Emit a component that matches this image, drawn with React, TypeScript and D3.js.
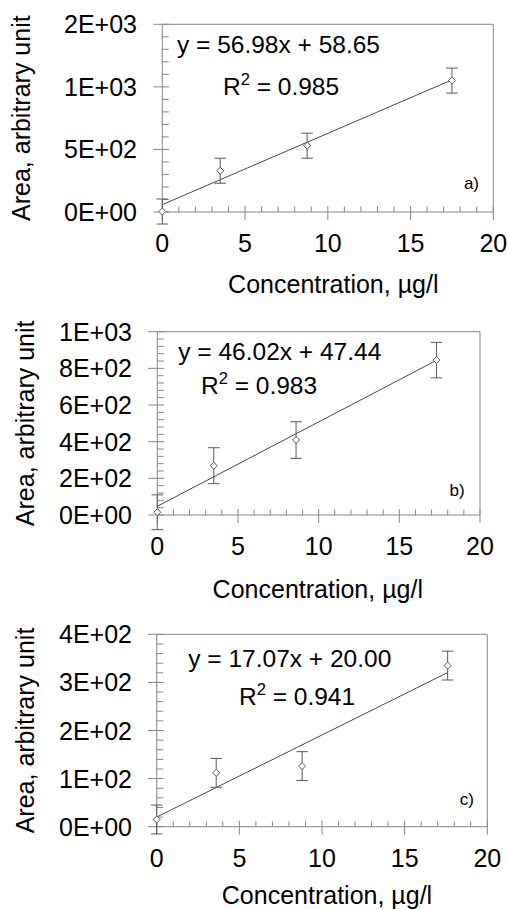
import React from "react";
import * as d3 from "d3";

// ---- Data ----
const panelIds = ["a", "b", "c"];
const concA = [0, 3.5, 8.75, 17.5];
const areaA = [4, 330, 530, 1050];
const errA = [100, 100, 100, 100];
const concB = [0, 3.5, 8.6, 17.3];
const areaB = [15, 269, 409, 845];
const errB = [95, 98, 100, 97];
const concC = [0, 3.6, 8.8, 17.6];
const areaC = [15, 112, 126, 335];
const errC = [30, 30, 30, 30];
const slopes = [56.98, 46.02, 17.07];
const intercepts = [58.65, 47.44, 20.0];
const r2s = ["0.985", "0.983", "0.941"];
const xTicks = [0, 5, 10, 15, 20];
const yMaxes = [1500, 1000, 400];
const yMajorSteps = [500, 200, 100];
const xTitle = "Concentration, µg/l";
const yTitle = "Area, arbitrary unit";

// ---- Layout (pixel positions) ----
const layout = [
  { x0: 162.3, x1: 493.3, yTop: 24.3, yBot: 212, yLabR: 137, yTitleX: 30, eqX: 177, eqY: 53, r2X: 223, r2Y: 95, labX: 479, labY: 188.5, xTitleX: 333.3, xTitleY: 293 },
  { x0: 157.3, x1: 480, yTop: 331.7, yBot: 515, yLabR: 132, yTitleX: 34, eqX: 178.3, eqY: 360, r2X: 201, r2Y: 394, labX: 464.7, labY: 496, xTitleX: 317.8, xTitleY: 598.3 },
  { x0: 156.7, x1: 487.3, yTop: 634.3, yBot: 826.7, yLabR: 132, yTitleX: 34, eqX: 188.3, eqY: 666.7, r2X: 239, r2Y: 705, labX: 474, labY: 805, xTitleX: 327, xTitleY: 904 },
];

const FONT = "'Liberation Sans', Arial, sans-serif";
const AXIS = "#868686";
const ERR = "#5a5a5a";
const LINE = "#4a4a4a";

function excelSci(v: number): string {
  if (v === 0) return "0E+00";
  let e = Math.floor(Math.log10(Math.abs(v)));
  let m = Math.round(v / Math.pow(10, e));
  if (m >= 10) { m = 1; e += 1; }
  const es = (e < 0 ? "-" : "+") + String(Math.abs(e)).padStart(2, "0");
  return `${m}E${es}`;
}

function Panel({ i }: { i: number }) {
  const L = layout[i];
  const conc = [concA, concB, concC][i];
  const area = [areaA, areaB, areaC][i];
  const err = [errA, errB, errC][i];
  const x = d3.scaleLinear().domain([0, 20]).range([L.x0, L.x1]);
  const y = d3.scaleLinear().domain([0, yMaxes[i]]).range([L.yBot, L.yTop]);
  const step = yMajorSteps[i];
  const yMajor = d3.range(0, yMaxes[i] + step / 2, step);
  const yMinor = d3.range(0, yMaxes[i] + step / 10, step / 5).filter((v) => !yMajor.some((m) => Math.abs(m - v) < 1e-6));
  const xMinor = d3.range(0, 21, 1).filter((v) => v % 5 !== 0);
  const slope = slopes[i], icpt = intercepts[i];
  const xEnd = d3.max(conc) as number;
  const line = d3.line<number>().x((d) => x(d)).y((d) => y(slope * d + icpt));
  const r = 3.5;
  const cap = 5.8;
  return (
    <g>
      {/* frame: top and right */}
      <line x1={L.x0} x2={L.x1} y1={L.yTop} y2={L.yTop} stroke={AXIS} strokeWidth={1} />
      <line x1={L.x1} x2={L.x1} y1={L.yTop} y2={L.yBot} stroke={AXIS} strokeWidth={1} />
      {/* axes */}
      <line x1={L.x0} x2={L.x1} y1={L.yBot} y2={L.yBot} stroke={AXIS} strokeWidth={1} />
      <line x1={L.x0} x2={L.x0} y1={L.yTop} y2={L.yBot} stroke={AXIS} strokeWidth={1} />
      {xTicks.map((t) => (
        <line key={"xM" + t} x1={x(t)} x2={x(t)} y1={L.yBot - 6} y2={L.yBot + 8} stroke={AXIS} strokeWidth={1} />
      ))}
      {xMinor.map((t) => (
        <line key={"xm" + t} x1={x(t)} x2={x(t)} y1={L.yBot - 5.5} y2={L.yBot} stroke={AXIS} strokeWidth={1} />
      ))}
      {yMajor.map((t) => (
        <line key={"yM" + t} x1={L.x0 - 9} x2={L.x0 + 7} y1={y(t)} y2={y(t)} stroke={AXIS} strokeWidth={1} />
      ))}
      {yMinor.map((t) => (
        <line key={"ym" + t} x1={L.x0} x2={L.x0 + 6.5} y1={y(t)} y2={y(t)} stroke={AXIS} strokeWidth={1} />
      ))}
      {yMajor.map((t) => (
        <text key={"yl" + t} x={L.yLabR} y={y(t)} dy="0.36em" textAnchor="end" fontFamily={FONT} fontSize={25} fill="#000">
          {excelSci(t)}
        </text>
      ))}
      {xTicks.map((t) => (
        <text key={"xl" + t} x={x(t)} y={L.yBot + 40} textAnchor="middle" fontFamily={FONT} fontSize={25} fill="#000">
          {t}
        </text>
      ))}
      <text x={L.xTitleX} y={L.xTitleY} textAnchor="middle" fontFamily={FONT} fontSize={25} fill="#000">{xTitle}</text>
      <text transform={`translate(${L.yTitleX},${(L.yTop + L.yBot) / 2}) rotate(-90)`} textAnchor="middle" fontFamily={FONT} fontSize={25} fill="#000">{yTitle}</text>
      {/* trendline */}
      <path d={line([0, xEnd]) as string} fill="none" stroke={LINE} strokeWidth={1} />
      {/* error bars */}
      {conc.map((c, k) => (
        <g key={"e" + k} stroke={ERR} strokeWidth={1}>
          <line x1={x(c)} x2={x(c)} y1={y(area[k] + err[k])} y2={y(area[k] - err[k])} />
          <line x1={x(c) - cap} x2={x(c) + cap} y1={y(area[k] + err[k])} y2={y(area[k] + err[k])} />
          <line x1={x(c) - cap} x2={x(c) + cap} y1={y(area[k] - err[k])} y2={y(area[k] - err[k])} />
        </g>
      ))}
      {/* markers */}
      {conc.map((c, k) => {
        const cx = x(c), cy = y(area[k]);
        return (
          <path key={"m" + k} d={`M${cx},${cy - r}L${cx + r},${cy}L${cx},${cy + r}L${cx - r},${cy}Z`} fill="#fff" stroke={ERR} strokeWidth={1} />
        );
      })}
      {/* equation */}
      <text x={L.eqX} y={L.eqY} fontFamily={FONT} fontSize={24.5} fill="#000">
        {`y = ${slope.toFixed(2)}x + ${icpt.toFixed(2)}`}
      </text>
      <text x={L.r2X} y={L.r2Y} fontFamily={FONT} fontSize={24.5} fill="#000">
        R<tspan fontSize={16.5} dy={-10}>2</tspan><tspan dy={10}>{` = ${r2s[i]}`}</tspan>
      </text>
      <text x={L.labX} y={L.labY} textAnchor="end" fontFamily={FONT} fontSize={17} fill="#000">{panelIds[i] + ")"}</text>
    </g>
  );
}

export default function App() {
  return (
    <svg width={508} height={910} style={{ position: "absolute", left: 0, top: 0, background: "#fff" }}>
      <rect width={508} height={910} fill="#fff" />
      {[0, 1, 2].map((i) => <Panel key={i} i={i} />)}
    </svg>
  );
}
